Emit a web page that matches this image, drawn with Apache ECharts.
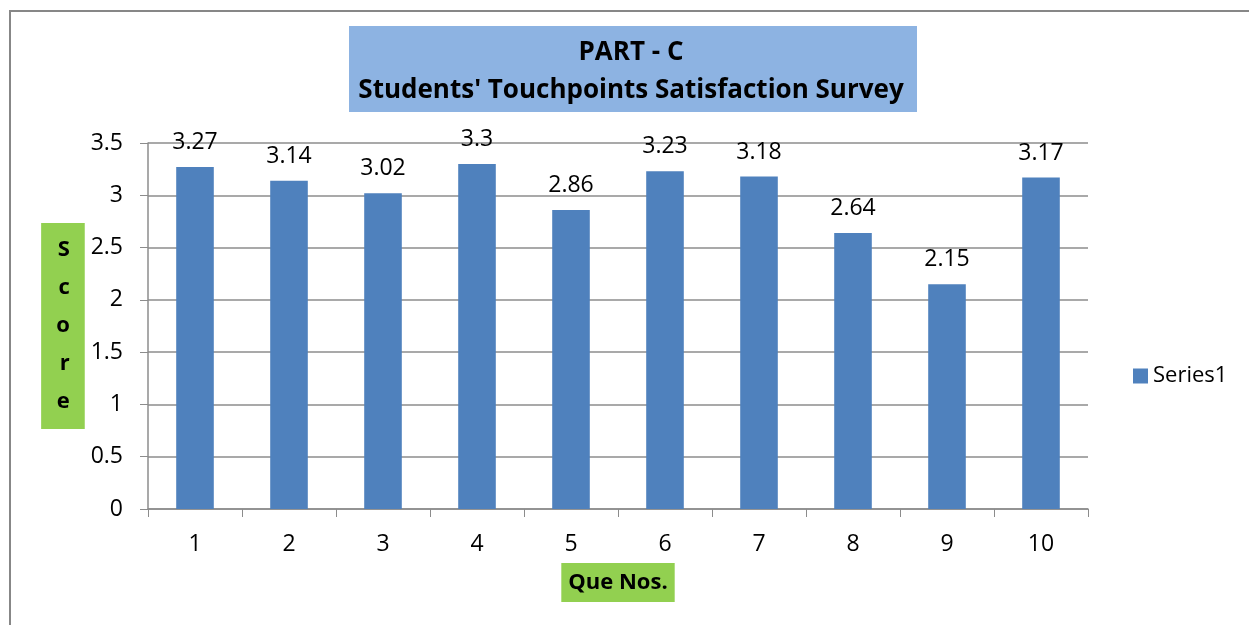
<!DOCTYPE html>
<html>
<head>
<meta charset="utf-8">
<title>PART - C Students' Touchpoints Satisfaction Survey</title>
<script src="https://cdn.jsdelivr.net/npm/echarts@6/dist/echarts.min.js"></script>
<style>
  html, body { margin: 0; padding: 0; background: #fff; }
  #chart { width: 1249px; height: 625px; }
</style>
</head>
<body>
<div id="chart"></div>
<script>
var questions = ['1', '2', '3', '4', '5', '6', '7', '8', '9', '10'];
var scores = [3.27, 3.14, 3.02, 3.3, 2.86, 3.23, 3.18, 2.64, 2.15, 3.17];
var titleLines = ['PART - C', "Students' Touchpoints Satisfaction Survey"];

var font = '"Open Sans", "Noto Sans", sans-serif';
var gridColor = '#8c8c8c';

var chart = echarts.init(document.getElementById('chart'));

var option = {
  animation: false,
  textStyle: { fontFamily: font },
  graphic: [
    {
      // outer chart frame, runs off the right/bottom like the screenshot
      type: 'rect',
      shape: { x: 10, y: 11, width: 1400, height: 800 },
      style: { fill: 'none', stroke: '#878787', lineWidth: 2 },
      silent: true
    },
    {
      type: 'rect',
      shape: { x: 349, y: 26, width: 568, height: 86 },
      style: { fill: '#8DB3E2' },
      silent: true
    },
    {
      type: 'text',
      x: 631,
      y: 72,
      style: {
        text: titleLines.join('\n'),
        font: 'bold 26px ' + font,
        fill: '#000',
        align: 'center',
        verticalAlign: 'middle',
        lineHeight: 38
      }
    }
  ],
  legend: {
    left: 1128,
    top: 360,
    itemWidth: 15,
    itemHeight: 15,
    icon: 'rect',
    textStyle: { fontSize: 22, color: '#000', fontFamily: font },
    data: ['Series1']
  },
  grid: { left: 148, right: 161, top: 143, bottom: 116 },
  xAxis: {
    type: 'category',
    data: questions,
    name: 'Que Nos.',
    nameLocation: 'middle',
    nameGap: 54,
    nameTextStyle: {
      fontSize: 22,
      fontWeight: 'bold',
      color: '#000',
      backgroundColor: '#92D050',
      padding: [9, 7, 8, 7],
      verticalAlign: 'top'
    },
    axisLine: { lineStyle: { color: gridColor, width: 1.5 } },
    axisTick: { show: true, length: 8, alignWithLabel: false, lineStyle: { color: gridColor } },
    axisLabel: { fontSize: 23, color: '#000', margin: 24 }
  },
  yAxis: {
    type: 'value',
    min: 0,
    max: 3.5,
    interval: 0.5,
    name: 'S\nc\no\nr\ne',
    nameLocation: 'middle',
    nameRotate: 0,
    nameGap: 63,
    nameTextStyle: {
      fontSize: 22,
      fontWeight: 'bold',
      color: '#000',
      lineHeight: 38,
      backgroundColor: '#92D050',
      padding: [10, 15, 6, 15]
    },
    axisLine: { show: true, lineStyle: { color: gridColor, width: 1.5 } },
    axisTick: { show: true, length: 8, lineStyle: { color: gridColor } },
    axisLabel: { fontSize: 23, color: '#000', margin: 25 },
    splitLine: { lineStyle: { color: gridColor, width: 1.5 } }
  },
  series: [
    {
      name: 'Series1',
      type: 'bar',
      data: scores,
      barWidth: '40%',
      itemStyle: { color: '#4F81BD' },
      label: {
        show: true,
        position: 'top',
        distance: 13,
        fontSize: 23,
        color: '#000'
      }
    }
  ]
};

chart.setOption(option);
</script>
</body>
</html>
